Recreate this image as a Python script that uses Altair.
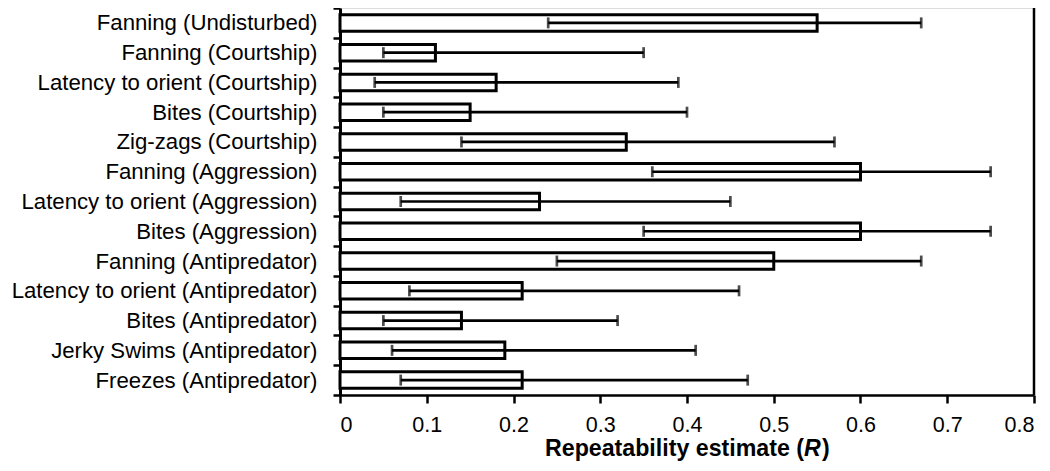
import altair as alt
import pandas as pd

categories = [
    "Fanning (Undisturbed)",
    "Fanning (Courtship)",
    "Latency to orient (Courtship)",
    "Bites (Courtship)",
    "Zig-zags (Courtship)",
    "Fanning (Aggression)",
    "Latency to orient (Aggression)",
    "Bites (Aggression)",
    "Fanning (Antipredator)",
    "Latency to orient (Antipredator)",
    "Bites (Antipredator)",
    "Jerky Swims (Antipredator)",
    "Freezes (Antipredator)",
]
repeatability = [0.55, 0.11, 0.18, 0.15, 0.33, 0.60, 0.23, 0.60, 0.50, 0.21, 0.14, 0.19, 0.21]
ci_lower = [0.24, 0.05, 0.04, 0.05, 0.14, 0.36, 0.07, 0.35, 0.25, 0.08, 0.05, 0.06, 0.07]
ci_upper = [0.67, 0.35, 0.39, 0.40, 0.57, 0.75, 0.45, 0.75, 0.67, 0.46, 0.32, 0.41, 0.47]
x_ticks = [0, 0.1, 0.2, 0.3, 0.4, 0.5, 0.6, 0.7, 0.8]

df = pd.DataFrame({
    "behaviour": categories,
    "R": repeatability,
    "lo": ci_lower,
    "hi": ci_upper,
})

W, H = 694, 387
LABEL_FONT = "Liberation Sans, Arial, sans-serif"

xscale = alt.Scale(domain=[0, 0.8], nice=False, zero=True)
yscale = alt.Scale(paddingInner=0, paddingOuter=0)

y_enc = alt.Y(
    "behaviour:N",
    sort=categories,
    scale=yscale,
    axis=alt.Axis(
        title=None,
        tickBand="extent",
        tickSize=7,
        tickWidth=2.5,
        tickColor="black",
        domainWidth=3,
        domainColor="black",
        labelFont=LABEL_FONT,
        labelFontSize=22.2,
        labelColor="black",
        labelPadding=16,
        labelLimit=400,
    ),
)

base = alt.Chart(df)

bars = base.mark_bar(size=16.5, fill="white", stroke="black", strokeWidth=3).encode(
    x=alt.X(
        "R:Q",
        scale=xscale,
        axis=alt.Axis(
            title=None,
            values=x_ticks,
            format="~g",
            tickSize=8,
            tickWidth=2.5,
            tickColor="black",
            domainWidth=2.7,
            domainColor="black",
            labelFont=LABEL_FONT,
            labelFontSize=21.5,
            labelColor="black",
            labelPadding=11,
            grid=False,
        ),
    ),
    y=y_enc,
)

whisker = base.mark_rule(color="black", strokeWidth=2.7).encode(
    x=alt.X("lo:Q", scale=xscale),
    x2="hi:Q",
    y=alt.Y("behaviour:N", sort=categories, scale=yscale),
)

cap_lo = base.mark_tick(color="black", size=11, thickness=2.7).encode(
    x=alt.X("lo:Q", scale=xscale),
    y=alt.Y("behaviour:N", sort=categories, scale=yscale),
)
cap_hi = base.mark_tick(color="black", size=11, thickness=2.7).encode(
    x=alt.X("hi:Q", scale=xscale),
    y=alt.Y("behaviour:N", sort=categories, scale=yscale),
)

one = pd.DataFrame({"k": [0]})
right_border = alt.Chart(one).mark_rule(color="black", strokeWidth=2.5).encode(
    x=alt.value(W), y=alt.value(0), y2=alt.value(H)
)

title_y = 448
title_main = alt.Chart(one).mark_text(
    font=LABEL_FONT, fontSize=23.2, fontWeight="bold", align="right", baseline="alphabetic", color="black"
).encode(x=alt.value(464), y=alt.value(title_y), text=alt.value("Repeatability estimate ("))
title_r = alt.Chart(one).mark_text(
    font=LABEL_FONT, fontSize=23.2, fontWeight="bold", fontStyle="italic", align="left", baseline="alphabetic", color="black"
).encode(x=alt.value(464), y=alt.value(title_y), text=alt.value("R"))
title_close = alt.Chart(one).mark_text(
    font=LABEL_FONT, fontSize=23.2, fontWeight="bold", align="left", baseline="alphabetic", color="black"
).encode(x=alt.value(482), y=alt.value(title_y), text=alt.value(")"))

chart = alt.layer(
    bars, whisker, cap_lo, cap_hi, right_border, title_main, title_r, title_close
).properties(
    width=W,
    height=H,
    autosize=alt.AutoSizeParams(type="none"),
    padding={"left": 332, "top": 0, "right": 8, "bottom": 68},
).configure_view(
    stroke="#333333", strokeWidth=1.5
).configure(background="white")

chart.save("out.html", embed_options={"renderer": "svg", "actions": False})
